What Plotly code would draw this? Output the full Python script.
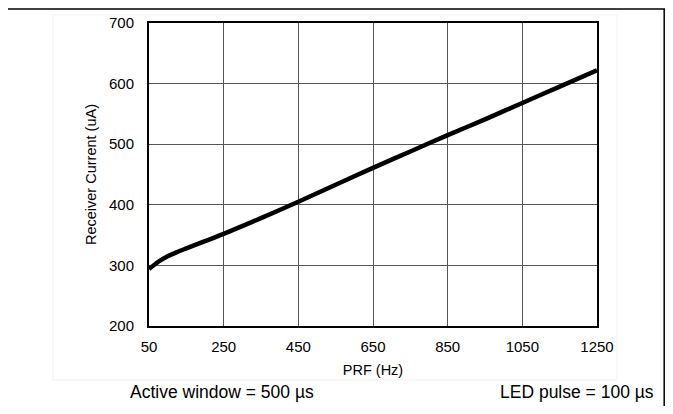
import plotly.graph_objects as go

# Data
prf_hz = [50, 75, 100, 125, 150, 200, 250, 350, 450, 550, 650, 750, 850, 950, 1050, 1150, 1250]
receiver_current_ua = [294, 306, 315, 322, 328, 340, 352, 378, 405, 433, 461, 488, 515, 541, 568, 595, 622]

x_ticks = [50, 250, 450, 650, 850, 1050, 1250]
y_ticks = [200, 300, 400, 500, 600, 700]

FONT = "Liberation Sans, Arial, sans-serif"

# page has an 8px body margin, so the figure is laid out 16px smaller to avoid scrollbars
W, H = 657, 398
L, T, R, B = 141, 15, 68, 80
PW, PH = W - L - R, H - T - B


def px(x):
    return (x - 8 - L) / PW


def py(y):
    return (H - B - (y - 8)) / PH


fig = go.Figure()
fig.add_trace(go.Scatter(
    x=prf_hz, y=receiver_current_ua, mode="lines",
    line=dict(color="black", width=4.5, shape="spline", smoothing=0.6),
    hoverinfo="skip", showlegend=False,
))

fig.update_layout(
    width=W, height=H,
    margin=dict(l=L, r=R, t=T, b=B),
    paper_bgcolor="white", plot_bgcolor="white",
    font=dict(family=FONT, color="black", size=15),
    showlegend=False,
)
fig.update_xaxes(
    automargin=False,
    range=[50, 1250], tickvals=x_ticks, ticktext=[str(v) for v in x_ticks],
    showgrid=True, gridcolor="#555", gridwidth=1,
    showline=True, linecolor="black", linewidth=2, mirror=True,
    zeroline=False, ticks="outside", ticklen=6, tickcolor="rgba(0,0,0,0)",
    tickfont=dict(size=15),
    title=dict(text="PRF (Hz)", font=dict(size=14.5), standoff=11),
)
fig.update_yaxes(
    automargin=False,
    range=[200, 700], tickvals=y_ticks, ticktext=[str(v) for v in y_ticks],
    showgrid=True, gridcolor="#555", gridwidth=1,
    showline=True, linecolor="black", linewidth=2, mirror=True,
    zeroline=False, ticks="outside", ticklen=10, tickcolor="rgba(0,0,0,0)",
    tickfont=dict(size=15),
    title=dict(text="Receiver Current (uA)", font=dict(size=14.5), standoff=9),
)

# faint background box
fig.add_shape(type="rect", xref="paper", yref="paper",
              x0=px(53), x1=px(617), y0=py(380), y1=py(15),
              line=dict(color="#f2f2f2", width=1), layer="below")
# outer frame lines (top and right)
fig.add_shape(type="line", xref="paper", yref="paper",
              x0=px(0), x1=px(680), y0=py(9), y1=py(9),
              line=dict(color="black", width=1.5))
fig.add_shape(type="line", xref="paper", yref="paper",
              x0=px(664.2), x1=px(664.2), y0=py(9), y1=py(420),
              line=dict(color="black", width=1.5))

fig.add_annotation(text="Active window = 500 µs", xref="paper", yref="paper",
                   x=px(222), y=py(392), xanchor="center", yanchor="middle",
                   showarrow=False, font=dict(size=17.5, family=FONT, color="black"))
fig.add_annotation(text="LED pulse = 100 µs", xref="paper", yref="paper",
                   x=px(656), y=py(392), xanchor="right", yanchor="middle",
                   showarrow=False, font=dict(size=17.5, family=FONT, color="black"))

fig.write_html("out.html")
